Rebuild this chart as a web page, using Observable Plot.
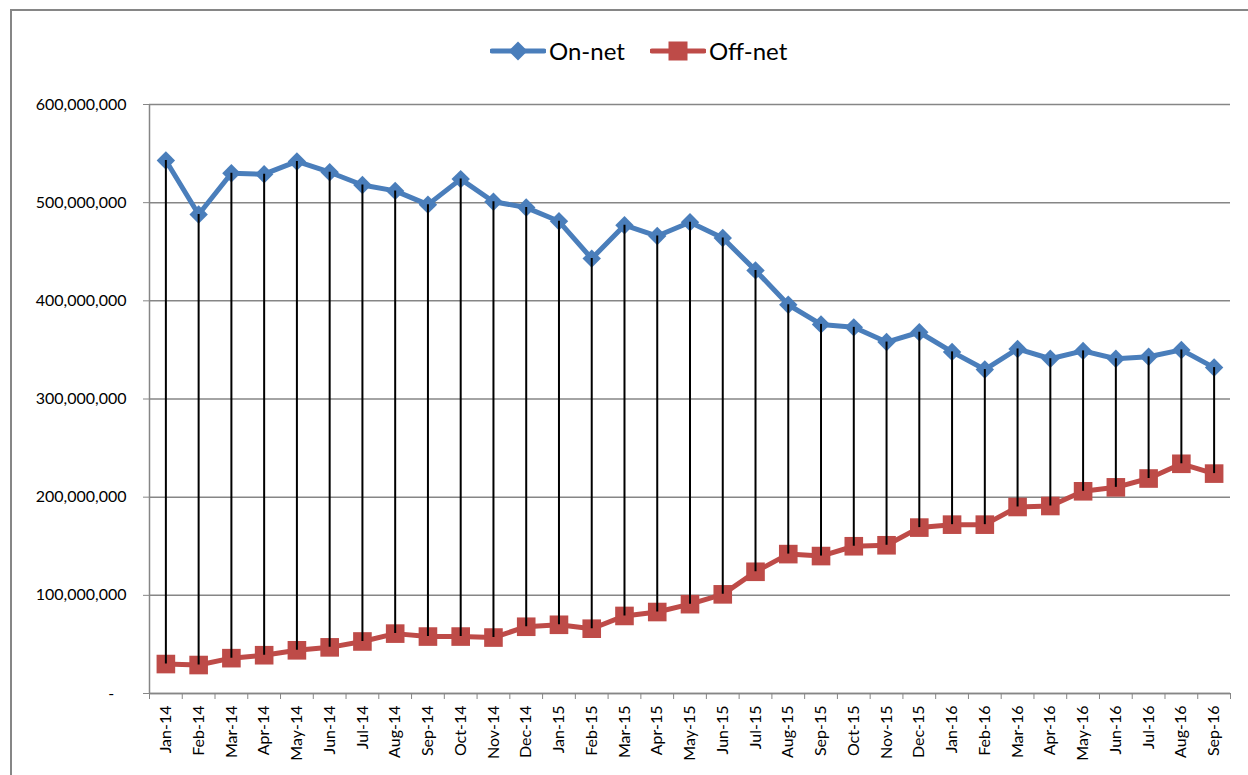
<!DOCTYPE html>
<html>
<head>
<meta charset="utf-8">
<script src="https://cdn.jsdelivr.net/npm/d3@7"></script>
<script src="https://cdn.jsdelivr.net/npm/@observablehq/plot@0.6"></script>
<style>
  body { margin: 0; background: #fff; font-family: Lato, sans-serif; }
  #wrap { position: relative; width: 1248px; height: 775px; overflow: hidden; }
  #frame { position: absolute; left: 10px; top: 9px; width: 1400px; height: 900px;
           border: 2px solid #868686; box-sizing: border-box; pointer-events: none; }
  #legend { height: 90px; position: relative; }
  .item { position: absolute; top: 36px; display: flex; align-items: center; font-size: 24px; color: #000; }
  .item svg { display: block; margin-right: 3px; }
  #chart svg { display: block; }
</style>
</head>
<body>
<div id="wrap">
  <div id="legend"></div>
  <div id="chart"></div>
  <div id="frame"></div>
</div>
<script>
const months = ["Jan-14","Feb-14","Mar-14","Apr-14","May-14","Jun-14","Jul-14","Aug-14","Sep-14","Oct-14","Nov-14","Dec-14",
                "Jan-15","Feb-15","Mar-15","Apr-15","May-15","Jun-15","Jul-15","Aug-15","Sep-15","Oct-15","Nov-15","Dec-15",
                "Jan-16","Feb-16","Mar-16","Apr-16","May-16","Jun-16","Jul-16","Aug-16","Sep-16"];
const onNet = [543e6,488e6,530e6,529e6,542e6,531e6,518e6,512e6,498e6,524e6,501e6,495e6,
               481e6,443e6,477e6,466e6,480e6,464e6,431e6,396e6,376e6,373e6,358e6,368e6,
               348e6,330e6,351e6,341e6,349e6,341e6,343e6,350e6,332e6];
const offNet = [30e6,29e6,36e6,39e6,44e6,47e6,53e6,61e6,58e6,58e6,57e6,68e6,
                70e6,66e6,79e6,83e6,91e6,101e6,124e6,142e6,140e6,150e6,151e6,169e6,
                172e6,172e6,190e6,191e6,206e6,210e6,219e6,234e6,224e6];
const seriesNames = ["On-net", "Off-net"];
const yTicks = [0,100e6,200e6,300e6,400e6,500e6,600e6];

const blue = "#4A7EBB", red = "#BE4B48", grey = "#868686";

// Legend
const legend = document.getElementById("legend");
const legendSpec = [
  {name: seriesNames[0], color: blue, left: 490, shape: "diamond"},
  {name: seriesNames[1], color: red, left: 650, shape: "square"}
];
for (const s of legendSpec) {
  const div = document.createElement("div");
  div.className = "item";
  div.style.left = s.left + "px";
  const marker = s.shape === "diamond"
    ? `<polygon points="28,3.5 37.5,13 28,22.5 18.5,13" fill="${s.color}"/>`
    : `<rect x="18.5" y="3.5" width="19" height="19" fill="${s.color}"/>`;
  div.innerHTML = `<svg width="56" height="26"><line x1="2" x2="54" y1="13" y2="13" stroke="${s.color}" stroke-width="5" stroke-linecap="round"/>${marker}</svg><span>${s.name}</span>`;
  legend.appendChild(div);
}

const idx = d3.range(months.length);
const boundaries = d3.range(-0.5, months.length, 1);

const plot = Plot.plot({
  width: 1248,
  height: 685,
  marginLeft: 149,
  marginRight: 18,
  marginTop: 14,
  marginBottom: 82,
  style: {fontFamily: "Lato, sans-serif", fontSize: "16px", color: "#000", background: "transparent"},
  x: {type: "linear", domain: [-0.5, months.length - 0.5], label: null},
  y: {domain: [0, 600e6], label: null},
  marks: [
    Plot.gridY(yTicks, {stroke: grey, strokeOpacity: 1, strokeWidth: 1.5}),
    Plot.ruleX([-0.5], {stroke: grey, strokeWidth: 1.5}),
    Plot.ruleY([0], {stroke: grey, strokeWidth: 1.5}),
    Plot.axisY(yTicks, {tickSize: 6, tickPadding: 17, stroke: grey, fill: "#000", fontSize: 16, label: null,
      tickFormat: d => d === 0 ? "-\u00a0\u00a0\u00a0" : d3.format(",")(d)}),
    Plot.axisX(boundaries, {tickSize: 6, stroke: grey, tickFormat: () => "", label: null}),
    Plot.axisX(idx, {tickSize: 0, tickPadding: 12, tickRotate: -90, fill: "#000", fontSize: 16, label: null,
      tickFormat: i => months[i]}),
    Plot.line(idx, {x: d => d, y: i => onNet[i], stroke: blue, strokeWidth: 5}),
    Plot.dot(idx, {x: d => d, y: i => onNet[i], symbol: "diamond2", r: 8.3, fill: blue, stroke: "none"}),
    Plot.line(idx, {x: d => d, y: i => offNet[i], stroke: red, strokeWidth: 5}),
    Plot.dot(idx, {x: d => d, y: i => offNet[i], symbol: "square", r: 10.5, fill: red, stroke: "none"}),
    Plot.ruleX(idx, {x: d => d, y1: i => offNet[i], y2: i => onNet[i], stroke: "#000", strokeWidth: 2})
  ]
});
document.getElementById("chart").appendChild(plot);
</script>
</body>
</html>
